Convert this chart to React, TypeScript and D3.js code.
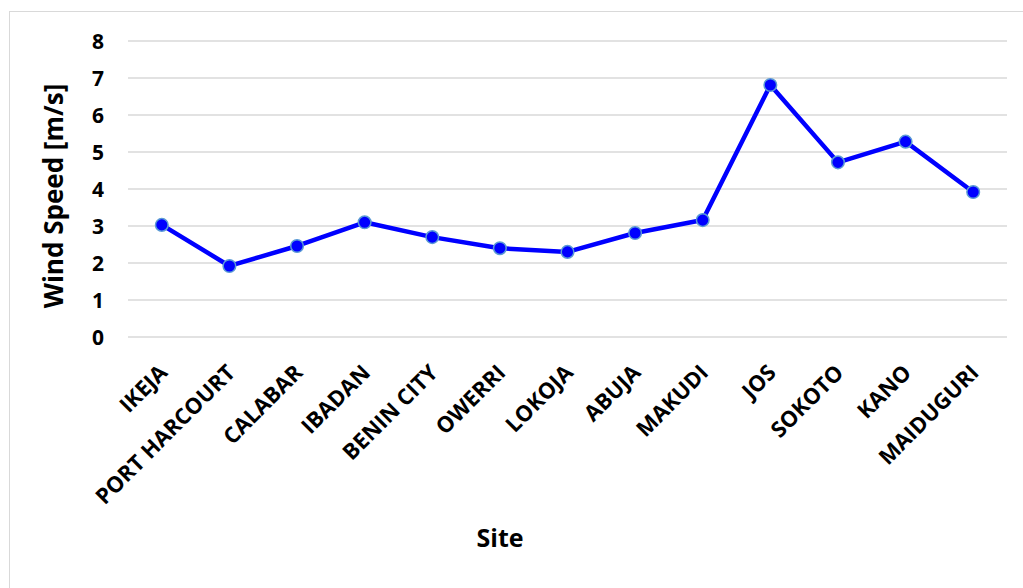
import React from "react";
import * as d3 from "d3";

const categories = ["IKEJA", "PORT HARCOURT", "CALABAR", "IBADAN", "BENIN CITY", "OWERRI", "LOKOJA", "ABUJA", "MAKUDI", "JOS", "SOKOTO", "KANO", "MAIDUGURI"];
const windSpeed = [3.03, 1.92, 2.46, 3.1, 2.7, 2.4, 2.3, 2.81, 3.16, 6.81, 4.72, 5.28, 3.92];
const yTicks = [0, 1, 2, 3, 4, 5, 6, 7, 8];

const W = 1023;
const H = 588;
const left = 128;
const right = 1007;
const top = 41;
const bottom = 337;
const font = "'Open Sans', sans-serif";

export default function App() {
  const x = d3.scaleBand<string>().domain(categories).range([left, right]);
  const y = d3.scaleLinear().domain([0, 8]).range([bottom, top]);
  const cx = (c: string) => (x(c) as number) + x.bandwidth() / 2;
  const line = d3
    .line<number>()
    .x((_, i) => cx(categories[i]))
    .y((d) => y(d));

  return (
    <svg width={W} height={H} style={{ position: "absolute", left: 0, top: 0 }}>
      <rect x={0} y={0} width={W} height={H} fill="#fff" />
      <rect x={9.5} y={11.5} width={W + 20} height={H + 20} fill="none" stroke="#d9d9d9" strokeWidth={1} />
      {yTicks.map((t) => (
        <g key={t}>
          <line x1={left} x2={right} y1={y(t)} y2={y(t)} stroke="#d9d9d9" strokeWidth={1.3} />
          <text x={104} y={y(t)} dy="0.36em" textAnchor="end" fontFamily={font} fontWeight={700} fontSize={21} fill="#000">
            {t}
          </text>
        </g>
      ))}
      <path d={line(windSpeed) || ""} fill="none" stroke="#0000ff" strokeWidth={4.5} strokeLinejoin="round" />
      {windSpeed.map((v, i) => (
        <circle key={i} cx={cx(categories[i])} cy={y(v)} r={6.3} fill="#0000ff" stroke="#5b9bd5" strokeWidth={1.5} />
      ))}
      {categories.map((c) => {
        const ax = cx(c) + 7;
        const ay = 374;
        return (
          <text
            key={c}
            x={ax}
            y={ay}
            textAnchor="end"
            transform={`rotate(-45 ${ax} ${ay})`}
            fontFamily={font}
            fontWeight={700}
            fontSize={22}
            fill="#000"
          >
            {c}
          </text>
        );
      })}
      <text x={54} y={196} dy="0.36em" textAnchor="middle" transform="rotate(-90 54 196)" fontFamily={font} fontWeight={700} fontSize={26} fill="#000">
        Wind Speed [m/s]
      </text>
      <text x={500} y={547} textAnchor="middle" fontFamily={font} fontWeight={700} fontSize={25} fill="#000">
        Site
      </text>
    </svg>
  );
}
